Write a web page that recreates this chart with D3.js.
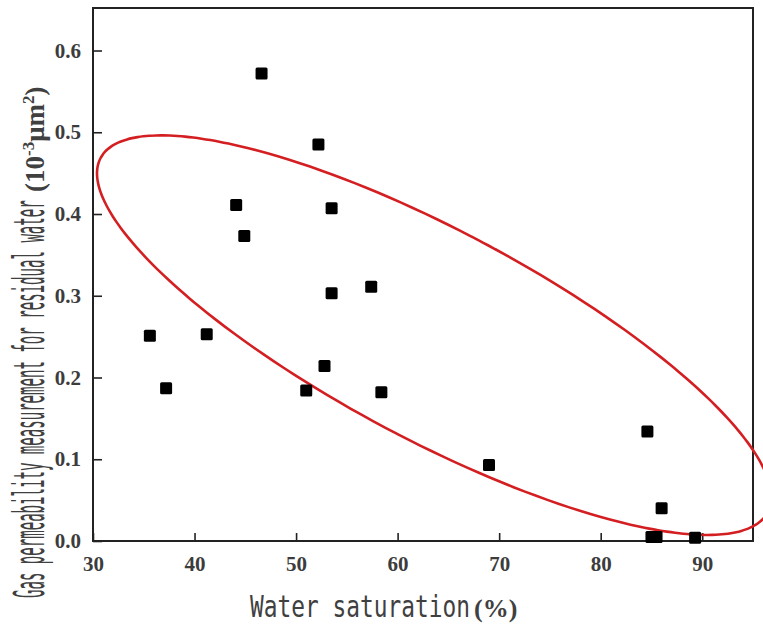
<!DOCTYPE html>
<html>
<head>
<meta charset="utf-8">
<script src="https://cdn.jsdelivr.net/npm/d3@7"></script>
<style>
  html, body { margin: 0; padding: 0; background: #fff; }
  svg { display: block; }
</style>
</head>
<body>
<svg id="chart" width="763" height="624"></svg>
<script>
// ---- data ----
const waterSaturation = [35.6, 37.2, 41.2, 44.1, 44.9, 46.6, 51.0, 52.2, 52.8, 53.5, 53.5, 57.4, 58.4, 69.0, 84.6, 86.0, 85.0, 85.5, 89.3];
const gasPermeability = [0.251, 0.187, 0.253, 0.411, 0.373, 0.572, 0.184, 0.485, 0.214, 0.407, 0.303, 0.311, 0.182, 0.093, 0.134, 0.040, 0.005, 0.005, 0.004];
const xTicks = [30, 40, 50, 60, 70, 80, 90];
const yTicks = [0.0, 0.1, 0.2, 0.3, 0.4, 0.5, 0.6];
const xDomain = [30, 95];
const yDomain = [0, 0.652];
// ellipse (data units): centre, first and second conjugate semi-axis vectors
const ellipseCenter = [63.6, 0.2518];
const ellipseAxisU = [32.85, -0.2167];
const ellipseAxisV = [-4.84, -0.1130];
const xTitle = "Water saturation";
const xTitleUnit = "(%)";
const yTitle = "Gas permeability measurement for residual water";

// ---- layout ----
const svg = d3.select("#chart");
const mLeft = 93, mRight = 753, mTop = 8, mBottom = 541;
const x = d3.scaleLinear().domain(xDomain).range([mLeft, mRight]);
const y = d3.scaleLinear().domain(yDomain).range([mBottom, mTop]);

// frame
svg.append("rect")
  .attr("x", mLeft).attr("y", mTop)
  .attr("width", mRight - mLeft).attr("height", mBottom - mTop)
  .attr("fill", "none").attr("stroke", "#222").attr("stroke-width", 2);

const tickFont = "'Liberation Serif', 'Times New Roman', serif";

const xAxis = svg.append("g")
  .attr("transform", `translate(0,${mBottom})`)
  .call(d3.axisBottom(x).tickValues(xTicks).tickFormat(d3.format("d"))
    .tickSizeInner(-8).tickSizeOuter(0).tickPadding(15));
const yAxis = svg.append("g")
  .attr("transform", `translate(${mLeft},0)`)
  .call(d3.axisLeft(y).tickValues(yTicks).tickFormat(d3.format(".1f"))
    .tickSizeInner(-9).tickSizeOuter(0).tickPadding(12));

[xAxis, yAxis].forEach(g => {
  g.select(".domain").remove();
  g.selectAll(".tick line").attr("stroke", "#222").attr("stroke-width", 1.6);
  g.selectAll(".tick text")
    .attr("font-family", tickFont)
    .attr("font-weight", "bold")
    .attr("font-size", 21)
    .attr("fill", "#3c3c3c");
});

// ellipse
const ts = d3.range(0, 361, 2).map(d => d * Math.PI / 180);
const ellipsePts = ts.map(t => [
  ellipseCenter[0] + ellipseAxisU[0] * Math.cos(t) + ellipseAxisV[0] * Math.sin(t),
  ellipseCenter[1] + ellipseAxisU[1] * Math.cos(t) + ellipseAxisV[1] * Math.sin(t)
]);
svg.append("path")
  .datum(ellipsePts)
  .attr("d", d3.line().x(d => x(d[0])).y(d => y(d[1])).curve(d3.curveCardinalClosed))
  .attr("fill", "none")
  .attr("stroke", "#d41f22")
  .attr("stroke-width", 2.6);

// points
const pts = waterSaturation.map((w, i) => ({ w, g: gasPermeability[i] }));
const s = 12;
svg.append("g").selectAll("rect")
  .data(pts).join("rect")
  .attr("x", d => x(d.w) - s / 2)
  .attr("y", d => y(d.g) - s / 2)
  .attr("width", s).attr("height", s)
  .attr("rx", 1.5)
  .attr("fill", "#000");

// condensed text helper: squeeze a text horizontally to a target length
const condFont = "'DejaVu Sans Mono', 'Liberation Mono', monospace";
function condensed(tx, ty, rot, size, txt, targetLen) {
  const t = svg.append("text")
    .attr("font-family", condFont)
    .attr("font-size", size)
    .attr("fill", "#404040")
    .text(txt);
  const natural = t.node().getComputedTextLength();
  t.attr("transform", `translate(${tx},${ty}) rotate(${rot}) scale(${targetLen / natural},1)`);
  return t;
}

// x title
condensed(250, 617, 0, 30, xTitle, 220);
svg.append("text")
  .attr("x", 474).attr("y", 617)
  .attr("font-family", tickFont)
  .attr("font-weight", "bold")
  .attr("font-size", 26)
  .attr("fill", "#404040")
  .text(xTitleUnit);

// y title
const yStart = 598, yLen = 398;
condensed(44, yStart, -90, 42, yTitle, yLen);
const unit = svg.append("text")
  .attr("transform", `translate(44,${yStart - yLen - 8}) rotate(-90)`)
  .attr("font-family", tickFont)
  .attr("font-weight", "bold")
  .attr("font-size", 27)
  .attr("fill", "#404040");
unit.append("tspan").text("(10");
unit.append("tspan").attr("dy", -10).attr("font-size", 17).text("-3");
unit.append("tspan").attr("dy", 10).text("μm");
unit.append("tspan").attr("dy", -10).attr("font-size", 17).text("2");
unit.append("tspan").attr("dy", 10).text(")");
</script>
</body>
</html>
